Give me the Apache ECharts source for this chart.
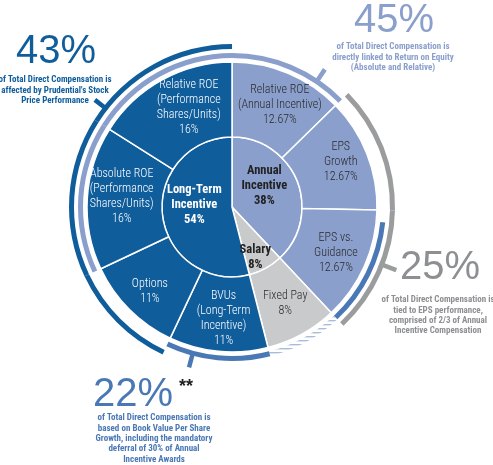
<!DOCTYPE html>
<html>
<head>
<meta charset="utf-8">
<script src="https://cdn.jsdelivr.net/npm/echarts@6/dist/echarts.min.js"></script>
<style>
html,body{margin:0;padding:0;background:#fff;}
#chart{width:493px;height:465px;}
</style>
</head>
<body>
<div id="chart"></div>
<script>
// ---- data ----
const innerNames = ['Annual\nIncentive', 'Salary', 'Long-Term\nIncentive'];
const innerValues = [38, 8, 54];
const outerNames = ['Relative ROE\n(Annual Incentive)', 'EPS\nGrowth', 'EPS vs.\nGuidance', 'Fixed Pay',
  'BVUs\n(Long-Term\nIncentive)', 'Options', 'Absolute ROE\n(Performance\nShares/Units)', 'Relative ROE\n(Performance\nShares/Units)'];
const outerValues = [12.67, 12.67, 12.67, 8, 11, 11, 16, 16];
const annualDeferral = 11.4; // mandatory deferral of Annual Incentive counted in BVPS arc
const calloutNumbers = ['43%', '45%', '25%', '22%'];
const calloutTexts = [
  'of Total Direct Compensation is\naffected by Prudential\'s Stock\nPrice Performance',
  'of Total Direct Compensation is\ndirectly linked to Return on Equity\n(Absolute and Relative)',
  'of Total Direct Compensation is\ntied to EPS performance,\ncomprised of 2/3 of Annual\nIncentive Compensation',
  'of Total Direct Compensation is\nbased on Book Value Per Share\nGrowth, including the mandatory\ndeferral of 30% of Annual\nIncentive Awards'
];

// ---- styles ----
const C_DARK = '#105d9c', C_LIGHT = '#8a9fcc', C_GRAY = '#c9cacc', C_MID = '#4a78b5', C_ARCGRAY = '#9b9c9e';
const innerColors = [C_LIGHT, C_GRAY, C_DARK];
const outerColors = [C_LIGHT, C_LIGHT, C_LIGHT, C_GRAY, C_DARK, C_DARK, C_DARK, C_DARK];
const NARROW = "'Roboto Condensed','DejaVu Sans Condensed',sans-serif";
const WIDE = "'Liberation Sans',Arial,sans-serif";
const cx = 232, cy = 207;

const chart = echarts.init(document.getElementById('chart'));

function fmt(v){ return v + '%'; }

// hatch pattern for the fixed-pay part of the BVPS arc
const pc = document.createElement('canvas');
pc.width = 6; pc.height = 4;
const pctx = pc.getContext('2d');
pctx.fillStyle = '#a9bcdb';
pctx.fillRect(0, 0, 6, 1.4);

const T = 'rgba(0,0,0,0)';
function arcSeries(r, items){
  return {
    type: 'pie', radius: r, center: [cx, cy], startAngle: 90, silent: true,
    label: {show: false}, labelLine: {show: false}, emphasis: {disabled: true},
    data: items.map(it => ({value: it[0], itemStyle: {color: it[1]}}))
  };
}
const ov = outerValues;
const sum = (a) => a.reduce((s, x) => s + x, 0);

const roeArc = arcSeries([149, 154], [
  [ov[0], C_LIGHT], [sum(ov.slice(1, 6)), T], [ov[6], C_LIGHT], [ov[7], C_LIGHT]]);
const stockArc = arcSeries([158, 163], [
  [sum(ov.slice(0, 5)), T], [ov[5], C_DARK], [ov[6], C_DARK], [ov[7], C_DARK]]);
const epsArc = arcSeries([158, 163], [
  [ov[0], T], [ov[1], C_ARCGRAY], [ov[2], C_ARCGRAY], [sum(ov.slice(3)), T]]);
const bvpsArc = arcSeries([149, 154], [
  [sum(ov.slice(0, 3)) - annualDeferral, T], [annualDeferral, C_MID],
  [ov[3], {image: pc, repeat: 'repeat'}], [ov[4], C_MID], [sum(ov.slice(5)), T]]);

const outerOffsets = [[5, 0], [6, -4], [3, 1], [0, 0], [2, 1], [-4, 6], [0, -4], [10, -3]];
const innerOffsets = [[-3, -7], [5, 17], [0, -7]];

const option = {
  backgroundColor: '#fff',
  animation: false,
  series: [
    {
      type: 'pie', radius: [0, 70], center: [cx, cy], startAngle: 90, silent: true,
      emphasis: {disabled: true}, labelLine: {show: false},
      itemStyle: {borderColor: '#fff', borderWidth: 1.5},
      label: {
        show: true, position: 'inside', fontFamily: NARROW, fontWeight: 'bold', fontSize: 12.5, lineHeight: 15,
        formatter: p => p.name + '\n' + fmt(p.value)
      },
      labelLayout: p => ({dx: innerOffsets[p.dataIndex][0], dy: innerOffsets[p.dataIndex][1]}),
      data: innerNames.map((n, i) => ({
        name: n, value: innerValues[i], itemStyle: {color: innerColors[i]},
        label: {color: i === 2 ? '#fff' : '#222'}
      }))
    },
    {
      type: 'pie', radius: [70, 145], center: [cx, cy], startAngle: 90, silent: true,
      emphasis: {disabled: true}, labelLine: {show: false},
      itemStyle: {borderColor: '#fff', borderWidth: 1.5},
      label: {
        show: true, position: 'inside', fontFamily: NARROW, fontWeight: 300, fontSize: 12, lineHeight: 15,
        formatter: p => p.name + '\n' + fmt(p.value)
      },
      labelLayout: p => ({dx: outerOffsets[p.dataIndex][0], dy: outerOffsets[p.dataIndex][1]}),
      data: outerNames.map((n, i) => ({
        name: n, value: outerValues[i], itemStyle: {color: outerColors[i]},
        label: {color: outerColors[i] === C_DARK ? '#fff' : '#2a2a2a'}
      }))
    },
    roeArc, stockArc, epsArc, bvpsArc
  ],
  graphic: []
};

// ticks
function pt(a, r){ const t = a * Math.PI / 180; return [cx + r * Math.cos(t), cy - r * Math.sin(t)]; }
function tick(a, r0, r1, color){
  const p0 = pt(a, r0), p1 = pt(a, r1);
  return {type: 'line', shape: {x1: p0[0], y1: p0[1], x2: p1[0], y2: p1[1]}, style: {stroke: color, lineWidth: 4.5}, silent: true};
}
option.graphic.push(tick(142, 162, 174, C_DARK));
option.graphic.push(tick(56, 153, 166, C_LIGHT));
option.graphic.push(tick(-21, 162, 176, C_ARCGRAY));
option.graphic.push(tick(-105, 153, 166, C_MID));

function bigText(x, y, txt, color){
  return {type: 'text', x: x, y: y, silent: true,
    style: {text: txt, fill: color, font: '40px ' + WIDE, textAlign: 'center', textVerticalAlign: 'middle'}};
}
function smallText(x, y, txt, color){
  return {type: 'text', x: x, y: y, silent: true,
    style: {text: txt, fill: color, font: 'bold 9px ' + NARROW, lineHeight: 10.3, textAlign: 'center', textVerticalAlign: 'top'}};
}
const calloutColors = [C_DARK, C_LIGHT, '#8e8f92', C_MID];
option.graphic.push(bigText(56, 52, calloutNumbers[0], calloutColors[0]));
option.graphic.push(smallText(55, 75, calloutTexts[0], calloutColors[0]));
option.graphic.push(bigText(394, 21, calloutNumbers[1], calloutColors[1]));
option.graphic.push(smallText(393, 42, calloutTexts[1], calloutColors[1]));
option.graphic.push(bigText(440, 268, calloutNumbers[2], calloutColors[2]));
option.graphic.push(smallText(438, 295, calloutTexts[2], calloutColors[2]));
option.graphic.push(bigText(133, 395, calloutNumbers[3], calloutColors[3]));
option.graphic.push({type: 'text', x: 186, y: 387, silent: true,
  style: {text: '**', fill: '#222', font: 'bold 18px ' + WIDE, textAlign: 'center', textVerticalAlign: 'middle'}});
option.graphic.push(smallText(154, 413, calloutTexts[3], calloutColors[3]));

chart.setOption(option);
</script>
</body>
</html>
